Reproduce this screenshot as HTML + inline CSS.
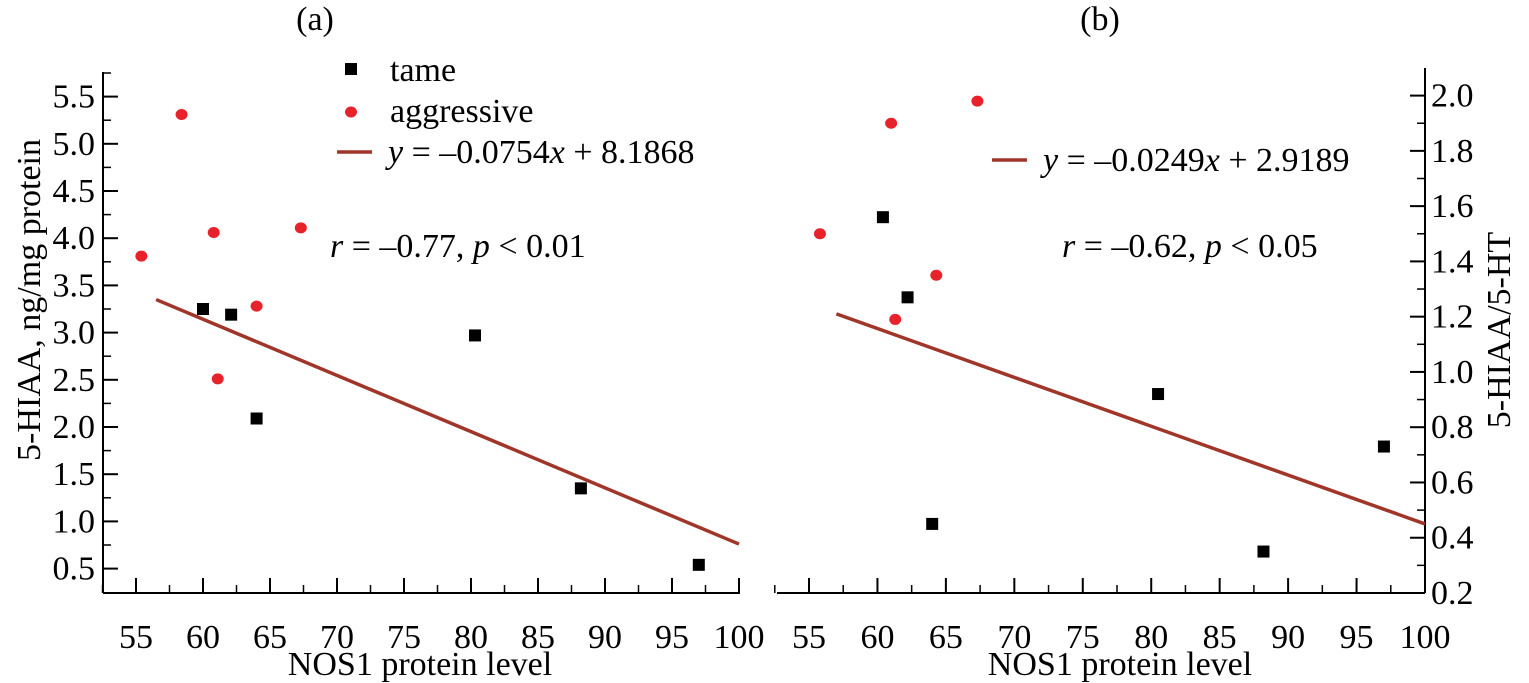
<!DOCTYPE html>
<html><head><meta charset="utf-8"><style>
body{margin:0;background:#fff}
svg{display:block}
svg text{font-family:"Liberation Serif","Times New Roman","DejaVu Serif","Noto Serif CJK SC",serif}
</style></head><body>
<svg id="c" width="1529" height="683"></svg>
<script>
const tameXA=[60,62.1,64,80.3,88.2,97];
const tameYA=[3.25,3.19,2.09,2.97,1.35,0.54];
const aggXA=[55.4,58.4,60.8,61.1,64,67.3];
const aggYA=[3.81,5.31,4.06,2.51,3.28,4.11];
const tameXB=[60.4,62.2,64,80.5,88.2,97];
const tameYB=[1.56,1.27,0.45,0.92,0.35,0.73];
const aggXB=[55.8,61,67.3,64.3,61.3];
const aggYB=[1.50,1.90,1.98,1.35,1.19];
const xTicks=[55,60,65,70,75,80,85,90,95,100];
const yTicksA=[0.5,1.0,1.5,2.0,2.5,3.0,3.5,4.0,4.5,5.0,5.5];
const yTicksB=[0.2,0.4,0.6,0.8,1.0,1.2,1.4,1.6,1.8,2.0];
const fitXA=[56.5,100], fitYA=[3.35,0.76];
const fitXB=[57,100], fitYB=[1.21,0.45];

const NS="http://www.w3.org/2000/svg",svg=document.getElementById('c');
function el(t,a,txt){const e=document.createElementNS(NS,t);for(const k in a)e.setAttribute(k,a[k]);if(txt!=null)e.textContent=txt;svg.appendChild(e);return e;}
const xa=v=>136+(v-55)*13.4, ya=v=>568.6-(v-0.5)*94.4;
const xb=v=>809+(v-55)*(616/45), yb=v=>593-(v-0.2)*((593-95.6)/1.8);

function panel(x,y,axisX,x0,x1,yTop,yTicks,minorStep,dir,fX,fY,tX,tY,aX,aY,tag){
  let e;
  e=el('line',{x1:axisX,y1:yTop,x2:axisX,y2:593,stroke:'#000','stroke-width':2});
  
  e=el('line',{x1:x0,y1:593,x2:x1,y2:593,stroke:'#000','stroke-width':2});
  
  for(const t of xTicks){
    e=el('line',{x1:x(t),y1:593,x2:x(t),y2:578,stroke:'#000','stroke-width':2});
    
    if(t<100){e=el('line',{x1:x(t+2.5),y1:593,x2:x(t+2.5),y2:585,stroke:'#000','stroke-width':1.5});
    }
    e=el('text',{x:x(t),y:648,'font-size':34,'text-anchor':'middle'},String(t));
    
  }
  e=el('line',{x1:x(52.5),y1:593,x2:x(52.5),y2:585,stroke:'#000','stroke-width':1.5});
  
  for(const t of yTicks){
    e=el('line',{x1:axisX,y1:y(t),x2:axisX+dir*15,y2:y(t),stroke:'#000','stroke-width':2});
    
    const m=t+minorStep;
    if(y(m)>yTop){e=el('line',{x1:axisX,y1:y(m),x2:axisX+dir*8,y2:y(m),stroke:'#000','stroke-width':1.5});
    }
    e=el('text',{x:dir>0?axisX-8:axisX+6,y:y(t)+11,'font-size':34,'text-anchor':dir>0?'end':'start'},t.toFixed(1));
    
  }
  e=el('line',{x1:x(fX[0]),y1:y(fY[0]),x2:x(fX[1]),y2:y(fY[1]),stroke:'#a0352a','stroke-width':3.5});
  
  tX.forEach((v,i)=>{e=el('rect',{x:x(v)-6,y:y(tY[i])-6,width:12,height:12,fill:'#000'});
    });
  aX.forEach((v,i)=>{e=el('ellipse',{cx:x(v),cy:y(aY[i]),rx:6,ry:5.5,fill:'#e8222a'});
    });
}
panel(xa,ya,103,103,740,72,yTicksA,0.25,1,fitXA,fitYA,tameXA,tameYA,aggXA,aggYA,'a');
panel(xb,yb,1425,777,1425,68,yTicksB,0.1,-1,fitXB,fitYB,tameXB,tameYB,aggXB,aggYB,'b');

let e;
e=el('text',{x:315,y:30,'font-size':34,'text-anchor':'middle'},'(a)');
e=el('text',{x:1100,y:30,'font-size':34,'text-anchor':'middle'},'(b)');
e=el('text',{x:420,y:675,'font-size':34,'text-anchor':'middle'},'NOS1 protein level');
e=el('text',{x:1120,y:675,'font-size':34,'text-anchor':'middle'},'NOS1 protein level');
e=el('text',{x:0,y:0,'font-size':34,'text-anchor':'middle',transform:'translate(40,300) rotate(-90)'},'5-HIAA, ng/mg protein');
e=el('text',{x:0,y:0,'font-size':34,'text-anchor':'middle',transform:'translate(1510,330) rotate(-90)'},'5-HIAA/5-HT');
e=el('rect',{x:345,y:63,width:12,height:12,fill:'#000'});
e=el('text',{x:390,y:81,'font-size':34},'tame');
e=el('ellipse',{cx:351,cy:112,rx:6,ry:5.5,fill:'#e8222a'});
e=el('text',{x:390,y:122,'font-size':34},'aggressive');
e=el('line',{x1:337,y1:152,x2:372,y2:152,stroke:'#a0352a','stroke-width':3.5});
e=el('text',{x:388,y:163,'font-size':34});e.innerHTML='<tspan font-style="italic">y</tspan> = –0.0754<tspan font-style="italic">x</tspan> + 8.1868';
e=el('text',{x:330,y:257,'font-size':34});e.innerHTML='<tspan font-style="italic">r</tspan> = –0.77, <tspan font-style="italic">p</tspan> &lt; 0.01';
e=el('line',{x1:992,y1:160,x2:1027,y2:160,stroke:'#a0352a','stroke-width':3.5});
e=el('text',{x:1043,y:171,'font-size':34});e.innerHTML='<tspan font-style="italic">y</tspan> = –0.0249<tspan font-style="italic">x</tspan> + 2.9189';
e=el('text',{x:1062,y:257,'font-size':34});e.innerHTML='<tspan font-style="italic">r</tspan> = –0.62, <tspan font-style="italic">p</tspan> &lt; 0.05';
</script>
</body></html>
